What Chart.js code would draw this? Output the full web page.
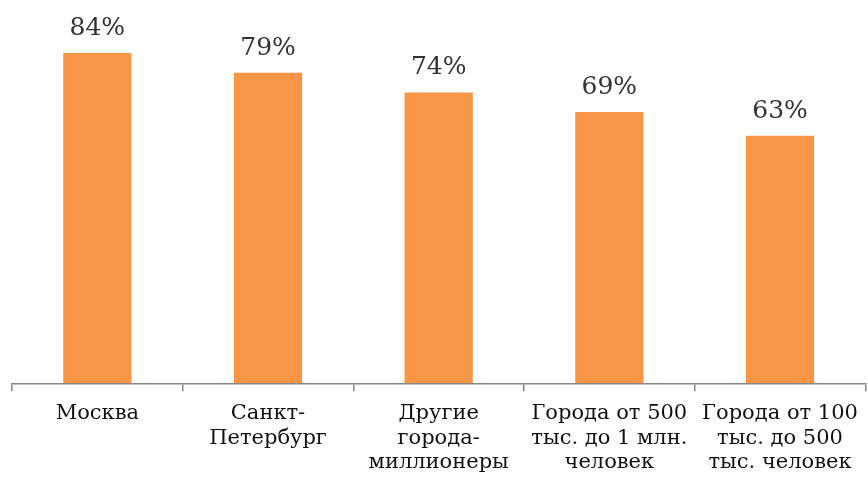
<!DOCTYPE html>
<html lang="ru">
<head>
<meta charset="utf-8">
<title>Доля по типам городов</title>
<script src="https://cdn.jsdelivr.net/npm/chart.js@4"></script>
<style>
  html, body { margin: 0; padding: 0; background: #fff; overflow: hidden; }
  #wrap { width: 868px; height: 485px; }
</style>
</head>
<body>
<div id="wrap"><canvas id="cityChart"></canvas></div>
<script>
  // Chart data
  const categories = [
    ['Москва'],
    ['Санкт-', 'Петербург'],
    ['Другие', 'города-', 'миллионеры'],
    ['Города от 500', 'тыс. до 1 млн.', 'человек'],
    ['Города от 100', 'тыс. до 500', 'тыс. человек']
  ];
  const shares = [84, 79, 74, 69, 63];

  const serif = '"DejaVu Serif", "Liberation Serif", serif';

  // Percent label above each bar
  const valueLabels = {
    id: 'valueLabels',
    afterDatasetsDraw(chart) {
      const { ctx } = chart;
      const meta = chart.getDatasetMeta(0);
      ctx.save();
      ctx.font = '25px ' + serif;
      ctx.fillStyle = '#333333';
      ctx.textAlign = 'center';
      ctx.textBaseline = 'alphabetic';
      meta.data.forEach((bar, i) => {
        ctx.fillText(shares[i] + '%', bar.x, bar.y - 18);
      });
      ctx.restore();
    }
  };

  new Chart(document.getElementById('cityChart').getContext('2d'), {
    type: 'bar',
    data: {
      labels: categories,
      datasets: [{
        data: shares,
        backgroundColor: '#F79646',
        barPercentage: 0.4,
        categoryPercentage: 1
      }]
    },
    options: {
      responsive: true,
      maintainAspectRatio: false,
      animation: false,
      layout: { padding: { left: 12, right: 1, top: 0, bottom: 0 } },
      plugins: {
        legend: { display: false },
        tooltip: { enabled: false }
      },
      scales: {
        x: {
          grid: {
            drawOnChartArea: false,
            color: '#868686',
            tickLength: 8,
            lineWidth: 1.5
          },
          border: { color: '#868686', width: 1.5 },
          ticks: {
            color: '#111111',
            font: { family: serif, size: 21, lineHeight: 1.17 },
            padding: 10,
            maxRotation: 0,
            autoSkip: false
          }
        },
        y: {
          display: false,
          min: 0,
          max: 97.5
        }
      }
    },
    plugins: [valueLabels]
  });
</script>
</body>
</html>
